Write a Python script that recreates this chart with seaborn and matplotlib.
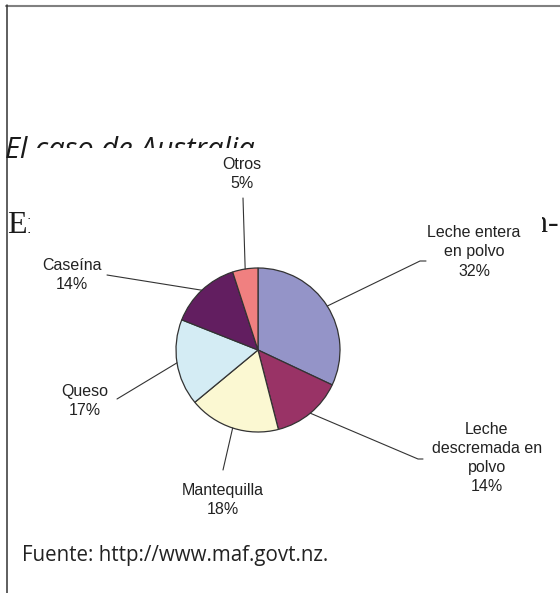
import matplotlib
matplotlib.use("Agg")
import matplotlib.pyplot as plt
import seaborn as sns
import numpy as np
from matplotlib.lines import Line2D

# datos del grafico
categorias = ["Leche entera\nen polvo", "Leche\ndescremada en\npolvo", "Mantequilla",
              "Queso", "Caseína", "Otros"]
porcentajes = [32, 14, 18, 17, 14, 5]
colores = ["#9494C8", "#993366", "#FBF8D2", "#D4ECF4", "#621E60", "#F08080"]

# centro de cada etiqueta y codo de la linea guia (pixeles desde arriba-izquierda)
pos_etiquetas = [(474, 252), (487, 458), (223, 500), (85, 401), (72, 275), (242, 174)]
codos = [[(420, 261), (426, 261)], [(418, 459), (423, 459)], [(223, 470)],
         [(117, 399)], [(107, 275)], [(243, 198)]]

W, H = 560, 593
sns.set_style("white")
plt.rcParams["font.family"] = ["Liberation Sans", "DejaVu Sans"]

fig = plt.figure(figsize=(W / 100, H / 100), dpi=100)


def fx(x):
    return x / W


def fy(y):
    return 1 - y / H


# marco de la pagina
fig.add_artist(Line2D([fx(6), 1], [fy(5.5)] * 2, color="#808080", lw=1.5, zorder=1))
fig.add_artist(Line2D([fx(6.5)] * 2, [fy(5), 0], color="#333333", lw=1.1, zorder=1))

# texto del documento, en parte tapado por el grafico
fig.text(fx(5), fy(158), "El caso de Australia", fontsize=21, style="italic",
         family="Open Sans", color="#1a1a1a", va="baseline")
fig.text(fx(8), fy(233), "En la", family="Liberation Serif", fontsize=23,
         color="#1a1a1a", va="baseline")
fig.text(fx(559), fy(232), "ón-", family="Liberation Serif", fontsize=23,
         color="#1a1a1a", va="baseline", ha="right")
fig.text(fx(22), fy(556), "Fuente: http://www.maf.govt.nz.", va="center",
         fontsize=14.8, family="Open Sans", color="#222222")

# area del grafico (fondo blanco)
x0, x1, y0, y1 = 30, 542, 148, 538
ax = fig.add_axes([fx(x0), fy(y1), (x1 - x0) / W, (y1 - y0) / H])
ax.set_zorder(5)
cx, cy, r = 258, 350, 82
wedges, _ = ax.pie(porcentajes, colors=colores, startangle=90, counterclock=False,
                   center=(cx, H - cy), radius=r,
                   wedgeprops=dict(edgecolor="#333333", linewidth=0.9))
ax.set_xlim(x0, x1)
ax.set_ylim(H - y1, H - y0)
ax.set_aspect("auto")
ax.set_frame_on(True)
for s in ax.spines.values():
    s.set_visible(False)
ax.set_xticks([])
ax.set_yticks([])
ax.set_facecolor("white")

for w, cat, pct, (lx, ly), codo in zip(wedges, categorias, porcentajes, pos_etiquetas, codos):
    ang = np.deg2rad((w.theta1 + w.theta2) / 2)
    ex, ey = cx + r * np.cos(ang), H - cy + r * np.sin(ang)
    xs = [ex] + [p[0] for p in codo]
    ys = [ey] + [H - p[1] for p in codo]
    ax.plot(xs, ys, color="#333333", lw=0.8)
    ax.text(lx, H - ly, f"{cat}\n{pct}%", ha="center", va="center", fontsize=11.5,
            linespacing=1.36, color="#222222")

fig.savefig("out.png", dpi=100)
